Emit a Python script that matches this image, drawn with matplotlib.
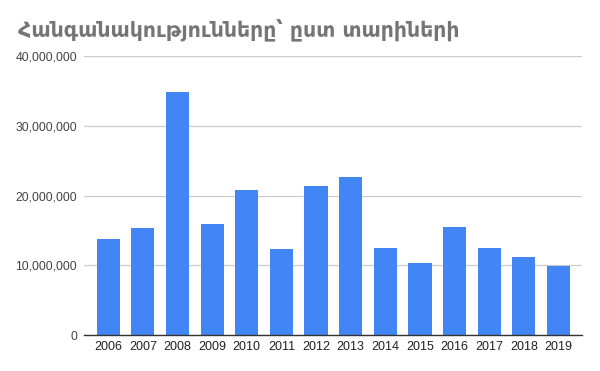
import matplotlib.pyplot as plt
from matplotlib.ticker import FuncFormatter

years = ["2006", "2007", "2008", "2009", "2010", "2011", "2012",
         "2013", "2014", "2015", "2016", "2017", "2018", "2019"]
donations = [13.76e6, 15.34e6, 34.9e6, 15.9e6, 20.8e6, 12.3e6, 21.4e6,
             22.65e6, 12.47e6, 10.3e6, 15.5e6, 12.47e6, 11.2e6, 9.85e6]
yticks = [0, 10e6, 20e6, 30e6, 40e6]

fig = plt.figure(figsize=(6, 3.71), dpi=100)
ax = fig.add_axes([0.14, 0.097, 0.83, 0.752])

x = range(len(years))
ax.bar(x, donations, width=0.67, color="#4285f4", zorder=2)

ax.set_xlim(-0.7, len(years) - 1 + 0.68)
ax.set_ylim(0, 40e6)
ax.set_xticks(list(x))
ax.set_xticklabels(years, fontfamily="Liberation Sans", fontsize=9, color="#222222")
ax.set_yticks(yticks)
ax.yaxis.set_major_formatter(FuncFormatter(lambda v, p: f"{int(v):,}"))
for lab in ax.get_yticklabels():
    lab.set_fontfamily("Liberation Sans")
    lab.set_fontsize(8.8)
    lab.set_color("#444444")
ax.tick_params(axis="both", length=0)
ax.tick_params(axis="y", pad=5)
ax.tick_params(axis="x", pad=4)

ax.grid(axis="y", color="#cccccc", linewidth=0.9, zorder=0)
for s in ["top", "right", "left"]:
    ax.spines[s].set_visible(False)
ax.spines["bottom"].set_color("#333333")
ax.spines["bottom"].set_linewidth(1)
ax.spines["bottom"].set_zorder(3)

fig.text(0.03, 0.918, "Հանգանակությունները՝ ըստ տարիների",
         fontsize=14.8, fontweight="bold", color="#757575",
         fontfamily="DejaVu Sans", va="center", ha="left")

fig.savefig("out.png", dpi=100)
